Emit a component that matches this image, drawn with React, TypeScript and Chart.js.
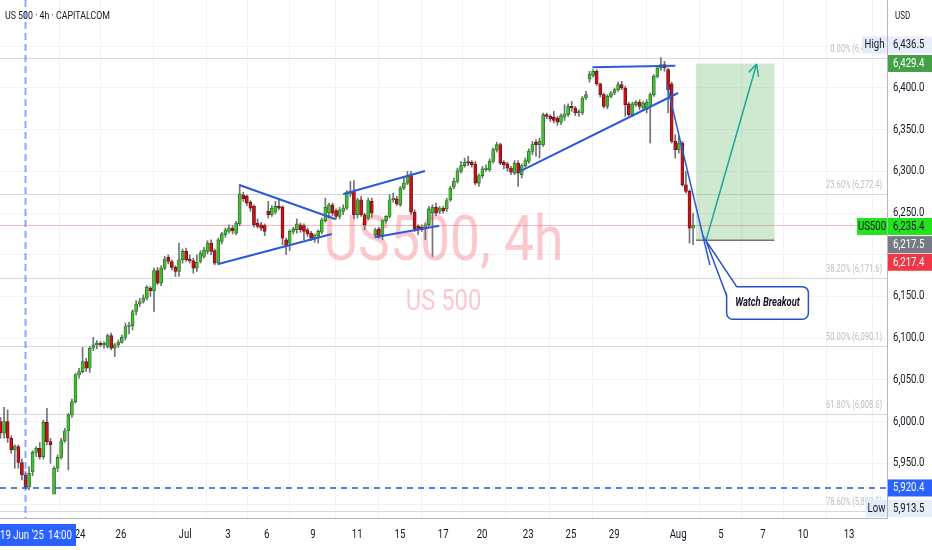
import { useEffect, useRef } from 'react';
import { Chart, BarController, BarElement, LinearScale, CategoryScale } from 'chart.js';

Chart.register(BarController, BarElement, LinearScale, CategoryScale);

const FONT = "Roboto, 'Liberation Sans', sans-serif";
Chart.defaults.font.family = FONT;

// 4h candles, Jun 18 -> Aug 1 (index = bar number)
const opens = [
  6000, 5986, 6000, 5980, 5966, 5970, 5951, 5936, 5922, 5940,
  5963, 5968, 5958, 5999, 5976, 5913, 5944, 5957, 5977, 5989,
  6008, 6024, 6056, 6060, 6072, 6064, 6088, 6092, 6093, 6092,
  6090, 6103, 6088, 6092, 6095, 6101, 6114, 6115, 6132, 6141,
  6144, 6148, 6160, 6157, 6181, 6166, 6184, 6197, 6192, 6185,
  6180, 6194, 6204, 6194, 6193, 6184, 6192, 6198, 6204, 6214,
  6205, 6190, 6216, 6224, 6228, 6232, 6226, 6237, 6272, 6270,
  6263, 6258, 6238, 6236, 6235, 6252, 6248, 6251, 6258, 6257,
  6218, 6214, 6228, 6230, 6236, 6235, 6230, 6226, 6220, 6223,
  6227, 6241, 6250, 6260, 6253, 6246, 6252, 6256, 6273, 6276,
  6248, 6266, 6248, 6244, 6264, 6224, 6231, 6222, 6241, 6246,
  6266, 6267, 6260, 6280, 6286, 6295, 6251, 6234, 6233, 6231,
  6236, 6250, 6257, 6252, 6256, 6255, 6266, 6281, 6288, 6300,
  6307, 6311, 6311, 6309, 6286, 6295, 6302, 6302, 6312, 6326,
  6332, 6311, 6309, 6304, 6298, 6310, 6296, 6307, 6312, 6324,
  6335, 6332, 6332, 6368, 6366, 6365, 6364, 6359, 6365, 6368,
  6378, 6376, 6370, 6370, 6388, 6411, 6415, 6420, 6405, 6392,
  6378, 6390, 6394, 6398, 6404, 6400, 6381, 6368, 6380, 6383,
  6376, 6374, 6378, 6392, 6414, 6424, 6428, 6422, 6405, 6336,
  6326, 6334, 6284, 6276, 6232,
];
const highs = [
  6005, 6017, 6014, 5983, 5972, 5972, 5955, 5940, 5946, 5965,
  5970, 5975, 6002, 6016, 5980, 5946, 5960, 5980, 5992, 6010,
  6027, 6058, 6064, 6089, 6076, 6090, 6101, 6097, 6096, 6096,
  6105, 6106, 6094, 6098, 6104, 6118, 6119, 6134, 6145, 6148,
  6152, 6163, 6162, 6184, 6185, 6187, 6198, 6200, 6194, 6187,
  6214, 6207, 6208, 6200, 6196, 6200, 6205, 6209, 6217, 6218,
  6207, 6220, 6227, 6232, 6236, 6235, 6240, 6284, 6275, 6272,
  6265, 6260, 6243, 6239, 6237, 6264, 6259, 6264, 6267, 6259,
  6220, 6230, 6233, 6243, 6238, 6237, 6232, 6228, 6225, 6230,
  6244, 6268, 6262, 6262, 6255, 6257, 6260, 6277, 6288, 6289,
  6268, 6270, 6250, 6268, 6268, 6232, 6233, 6242, 6247, 6272,
  6274, 6270, 6282, 6292, 6300, 6300, 6254, 6236, 6236, 6238,
  6258, 6260, 6262, 6258, 6258, 6268, 6282, 6292, 6304, 6312,
  6316, 6318, 6313, 6312, 6297, 6306, 6308, 6315, 6328, 6335,
  6334, 6313, 6311, 6306, 6313, 6313, 6309, 6316, 6327, 6336,
  6338, 6340, 6370, 6370, 6368, 6372, 6366, 6369, 6380, 6381,
  6384, 6378, 6374, 6390, 6396, 6420, 6422, 6422, 6406, 6394,
  6392, 6396, 6400, 6407, 6408, 6402, 6383, 6383, 6385, 6386,
  6384, 6386, 6394, 6416, 6426, 6436.5, 6432, 6424, 6407, 6344,
  6342, 6336, 6300, 6278, 6250,
];
const lows = [
  5980, 5980, 5975, 5962, 5944, 5944, 5930, 5920, 5918, 5935,
  5958, 5955, 5955, 5972, 5950, 5913.5, 5940, 5955, 5975, 5942,
  6005, 6022, 6052, 6058, 6060, 6059, 6085, 6087, 6090, 6088,
  6088, 6086, 6078, 6089, 6094, 6098, 6105, 6110, 6128, 6138,
  6142, 6146, 6150, 6132, 6164, 6163, 6182, 6189, 6182, 6174,
  6174, 6190, 6192, 6190, 6178, 6180, 6190, 6196, 6201, 6200,
  6188, 6188, 6213, 6221, 6226, 6225, 6224, 6235, 6264, 6259,
  6252, 6233, 6232, 6229, 6223, 6244, 6246, 6249, 6254, 6212,
  6200, 6205, 6225, 6226, 6227, 6218, 6222, 6217, 6215, 6214,
  6225, 6239, 6244, 6247, 6243, 6243, 6248, 6254, 6270, 6243,
  6244, 6246, 6230, 6242, 6245, 6221, 6220, 6218, 6238, 6244,
  6263, 6259, 6258, 6278, 6284, 6248, 6228, 6224, 6228, 6218,
  6234, 6198, 6247, 6249, 6250, 6252, 6264, 6279, 6286, 6298,
  6305, 6307, 6305, 6284, 6282, 6292, 6300, 6300, 6310, 6323,
  6308, 6303, 6300, 6296, 6296, 6282, 6292, 6305, 6310, 6320,
  6318, 6316, 6330, 6363, 6360, 6358, 6355, 6356, 6361, 6366,
  6372, 6367, 6366, 6368, 6386, 6407, 6413, 6403, 6389, 6376,
  6375, 6388, 6392, 6396, 6398, 6366, 6366, 6366, 6378, 6374,
  6374, 6370, 6334, 6390, 6412, 6421, 6420, 6370, 6334, 6316,
  6322, 6282, 6274, 6214, 6212,
];
const closes = [
  5986, 6000, 5980, 5966, 5971, 5951, 5936, 5922, 5938, 5963,
  5968, 5958, 5999, 5976, 5972, 5944, 5957, 5977, 5989, 6008,
  6024, 6056, 6060, 6072, 6064, 6088, 6092, 6094, 6092, 6093,
  6103, 6088, 6092, 6095, 6101, 6114, 6115, 6132, 6141, 6144,
  6148, 6161, 6157, 6181, 6166, 6184, 6195, 6192, 6185, 6180,
  6194, 6204, 6194, 6193, 6184, 6191, 6202, 6206, 6214, 6204,
  6190, 6218, 6225, 6230, 6232, 6229, 6238, 6273, 6267, 6262,
  6256, 6236, 6234, 6232, 6228, 6248, 6256, 6258, 6256, 6220,
  6211, 6228, 6231, 6237, 6230, 6228, 6225, 6220, 6224, 6228,
  6242, 6257, 6260, 6250, 6246, 6254, 6256, 6274, 6276, 6248,
  6266, 6248, 6236, 6265, 6250, 6230, 6222, 6241, 6246, 6266,
  6268, 6261, 6280, 6286, 6294, 6251, 6231, 6230, 6230, 6236,
  6255, 6257, 6250, 6256, 6253, 6265, 6280, 6288, 6301, 6307,
  6311, 6310, 6308, 6286, 6295, 6303, 6304, 6312, 6326, 6332,
  6310, 6308, 6304, 6299, 6310, 6298, 6307, 6313, 6324, 6332,
  6332, 6336, 6368, 6366, 6363, 6361, 6359, 6367, 6369, 6378,
  6376, 6370, 6371, 6388, 6392, 6417, 6420, 6405, 6392, 6378,
  6390, 6394, 6398, 6404, 6400, 6380, 6368, 6381, 6383, 6378,
  6382, 6383, 6392, 6414, 6424, 6428, 6424, 6398, 6336, 6326,
  6334, 6284, 6276, 6232, 6235.4,
];

// date axis (bar index where each label sits)
const dayTicks = [22.3, 33.75, 51.7, 63.7, 74.6, 87.5, 99.9, 111.9, 124, 134.9, 147.8, 159.8, 171.9, 189.8, 201.8, 213.6, 224.8, 237.7];
const dayLabels = ['24', '26', 'Jul', '3', '6', '9', '11', '15', '17', '20', '23', '25', '29', 'Aug', '5', '7', '10', '13'];
const priceTicks = [5900, 5950, 6000, 6050, 6100, 6150, 6200, 6250, 6300, 6350, 6400, 6450];
const hiddenPriceLabels = [5900, 6200, 6450];

// fibonacci retracement
const fibLevels = [0, 0.236, 0.382, 0.5, 0.618, 0.786];
const fibPrices = [6435.4, 6272.4, 6171.6, 6090.1, 6008.6, 5892.5];

// drawings: [x1, price1, x2, price2] in bar index / price
const trendLines = [
  [66.9, 6283.7, 93.9, 6242.6],
  [61.0, 6189.0, 92.8, 6224.9],
  [96.0, 6272.9, 118.9, 6300.5],
  [104.9, 6221.0, 122.9, 6234.9],
  [145.2, 6299.3, 189.8, 6394.0],
  [165.8, 6424.8, 189.0, 6426.7],
];
const breakLine = [186.7, 6403.6, 198.7, 6187.8];
const targetArrow = [197.6, 6216.9, 211.8, 6428.8];
const positionBox = [194.8, 216.8, 6429.4, 6217.4];
const calloutBox = [203.4, 226.3, 6161.8, 6122.7];
const crosshairBar = 7;
const lowLevel = 5920.4;
const lastPrice = 6235.4;

const GREEN = '#47bb35', GREEN_EDGE = '#2a7420';
const RED = '#c0151b', RED_EDGE = '#760c0f';
const BLUE = '#2a5bd7';
const SQ = 0.8; // text is drawn a bit narrow, like the source

const fmt = (v: number) => v.toLocaleString('en-US', { minimumFractionDigits: 1, maximumFractionDigits: 1 });

function text(ctx: CanvasRenderingContext2D, s: string, x: number, y: number, o: any = {}) {
  ctx.save();
  ctx.translate(x, y);
  ctx.scale(o.sx ?? SQ, 1);
  ctx.font = `${o.style ?? ''} ${o.weight ?? ''} ${o.size ?? 12}px ${FONT}`.trim();
  ctx.textAlign = o.align ?? 'left';
  ctx.textBaseline = o.base ?? 'middle';
  ctx.fillStyle = o.color ?? '#131722';
  ctx.fillText(s, 0, 0);
  ctx.restore();
}

function tag(ctx: CanvasRenderingContext2D, x: number, yc: number, w: number, s: string, fill: string, color: string, align = 'left') {
  ctx.fillStyle = fill;
  ctx.fillRect(x, yc - 8.5, w, 17);
  text(ctx, s, align === 'center' ? x + w / 2 : x + 5, yc + 0.5, { size: 12, color, align });
}

const overlay = {
  id: 'overlay',
  beforeDatasetsDraw(chart: any) {
    const { ctx, chartArea: a, scales: { x, y } } = chart;
    ctx.save();
    ctx.beginPath();
    ctx.rect(a.left, a.top, a.right - a.left, a.bottom - a.top);
    ctx.clip();

    const cx = (a.left + a.right) / 2;
    text(ctx, 'US500, 4h', cx, a.top + 260, { size: 63, color: 'rgba(242,54,69,0.27)', align: 'center', base: 'alphabetic', sx: 0.85 });
    text(ctx, 'US 500', cx, a.top + 310, { size: 29, color: 'rgba(242,54,69,0.27)', align: 'center', base: 'alphabetic', sx: 0.82 });

    fibPrices.forEach((p, k) => {
      const py = Math.round(y.getPixelForValue(p)) + 0.5;
      ctx.strokeStyle = '#d6d8de';
      ctx.lineWidth = 1;
      ctx.beginPath();
      ctx.moveTo(a.left, py);
      ctx.lineTo(a.right, py);
      ctx.stroke();
      text(ctx, `${(fibLevels[k] * 100).toFixed(2)}% (${fmt(p)})`, a.right - 5, py - 9, { size: 10, color: '#bcbfc7', align: 'right', sx: 0.75 });
    });

    const lp = Math.round(y.getPixelForValue(lastPrice)) + 0.5;
    ctx.strokeStyle = 'rgba(242,54,69,0.35)';
    ctx.beginPath();
    ctx.moveTo(a.left, lp);
    ctx.lineTo(a.right, lp);
    ctx.stroke();

    const [bx1, bx2, bTop, bBot] = positionBox;
    const L = x.getPixelForValue(bx1), R = x.getPixelForValue(bx2);
    const T = y.getPixelForValue(bTop), B = y.getPixelForValue(bBot);
    ctx.fillStyle = 'rgba(76,175,80,0.27)';
    ctx.fillRect(L, T, R - L, B - T);
    ctx.strokeStyle = '#7d7468';
    ctx.lineWidth = 1.5;
    ctx.beginPath();
    ctx.moveTo(L, B);
    ctx.lineTo(R, B);
    ctx.stroke();
    ctx.restore();
  },
  afterDatasetsDraw(chart: any) {
    const { ctx, chartArea: a, scales: { x, y } } = chart;
    const P = (v: number, p: number) => [x.getPixelForValue(v), y.getPixelForValue(p)];
    ctx.save();
    ctx.beginPath();
    ctx.rect(a.left, a.top, a.right - a.left, a.bottom - a.top);
    ctx.clip();

    // crosshair + low dashed level
    const cxp = Math.round(x.getPixelForValue(crosshairBar)) + 0.5;
    ctx.setLineDash([7, 4]);
    ctx.strokeStyle = 'rgba(41,98,255,0.55)';
    ctx.lineWidth = 2;
    ctx.beginPath();
    ctx.moveTo(cxp, a.top);
    ctx.lineTo(cxp, a.bottom);
    ctx.stroke();
    const ly = y.getPixelForValue(lowLevel);
    ctx.setLineDash([6, 5]);
    ctx.strokeStyle = '#2450d6';
    ctx.lineWidth = 1.5;
    ctx.beginPath();
    ctx.moveTo(a.left, ly);
    ctx.lineTo(a.right, ly);
    ctx.stroke();
    ctx.setLineDash([]);

    ctx.strokeStyle = BLUE;
    ctx.lineWidth = 2;
    trendLines.forEach(([v1, p1, v2, p2]) => {
      const [x1, y1] = P(v1, p1), [x2, y2] = P(v2, p2);
      ctx.beginPath();
      ctx.moveTo(x1, y1);
      ctx.lineTo(x2, y2);
      ctx.stroke();
    });
    ctx.lineWidth = 1.5;
    {
      const [x1, y1] = P(breakLine[0], breakLine[1]), [x2, y2] = P(breakLine[2], breakLine[3]);
      ctx.beginPath();
      ctx.moveTo(x1, y1);
      ctx.lineTo(x2, y2);
      ctx.stroke();
    }

    // target arrow
    const [ax1, ay1] = P(targetArrow[0], targetArrow[1]);
    const [ax2, ay2] = P(targetArrow[2], targetArrow[3]);
    ctx.strokeStyle = '#22a59b';
    ctx.lineWidth = 1.5;
    ctx.beginPath();
    ctx.moveTo(ax1, ay1);
    ctx.lineTo(ax2, ay2);
    const ang = Math.atan2(ay2 - ay1, (ax2 - ax1) / SQ);
    for (const d of [150, -150]) {
      const t = ang + (d * Math.PI) / 180;
      ctx.moveTo(ax2, ay2);
      ctx.lineTo(ax2 + Math.cos(t) * 13 * SQ, ay2 + Math.sin(t) * 13);
    }
    ctx.stroke();

    // callout
    const [cl, ct] = P(calloutBox[0], calloutBox[2]);
    const [cr, cb] = P(calloutBox[1], calloutBox[3]);
    ctx.fillStyle = '#ffffff';
    ctx.strokeStyle = '#2551c4';
    ctx.lineWidth = 1.5;
    ctx.beginPath();
    ctx.roundRect(cl, ct, cr - cl, cb - ct, 6);
    ctx.fill();
    ctx.stroke();
    const tail = [[ax1, ay1], [cl, ct + 9], [cl + 10, ct]];
    ctx.beginPath();
    ctx.moveTo(tail[0][0], tail[0][1]);
    ctx.lineTo(tail[1][0] + 1, tail[1][1]);
    ctx.lineTo(tail[2][0], tail[2][1] + 1);
    ctx.closePath();
    ctx.fill();
    ctx.beginPath();
    ctx.moveTo(tail[1][0], tail[1][1]);
    ctx.lineTo(tail[0][0], tail[0][1]);
    ctx.lineTo(tail[2][0], tail[2][1]);
    ctx.stroke();
    text(ctx, 'Watch Breakout', (cl + cr) / 2, (ct + cb) / 2 + 0.5, { size: 12, style: 'italic', weight: 'bold', align: 'center', color: '#131722', sx: 0.78 });
    ctx.restore();
  },
  afterDraw(chart: any) {
    const { ctx, chartArea: a, scales: { x, y }, width } = chart;
    const ax = a.right + 1, aw = width - a.right - 1;

    priceTicks.forEach(v => {
      if (hiddenPriceLabels.includes(v)) return;
      text(ctx, fmt(v), a.right + 6, y.getPixelForValue(v), { size: 12 });
    });
    dayTicks.forEach((v, k) => {
      text(ctx, dayLabels[k], x.getPixelForValue(v), a.bottom + 17, { size: 12, align: 'center' });
    });

    const py = (p: number) => y.getPixelForValue(p);
    // High / Low markers
    tag(ctx, a.right - 25, py(6436.5) - 12.6, 25, 'High', '#e3ebf9', '#131722', 'center');
    tag(ctx, ax, py(6436.5) - 12.6, aw, fmt(6436.5), '#e8eef9', '#131722');
    tag(ctx, ax, py(6429.4), aw, fmt(6429.4), '#43a047', '#ffffff');
    tag(ctx, a.right - 30, py(lastPrice) + 1.2, 30, 'US500', '#22e31c', '#131722', 'center');
    tag(ctx, ax, py(lastPrice) + 1.2, aw, fmt(lastPrice), '#22e31c', '#131722');
    tag(ctx, ax, py(6217.5) + 4.4, aw, fmt(6217.5), '#787b86', '#ffffff');
    tag(ctx, ax, py(6217.4) + 22, aw, fmt(6217.4), '#f23645', '#ffffff');
    tag(ctx, ax, py(lowLevel), aw, fmt(lowLevel), '#2962ff', '#ffffff');
    tag(ctx, a.right - 21, py(5913.5) + 14.7, 21, 'Low', '#e3ebf9', '#131722', 'center');
    tag(ctx, ax, py(5913.5) + 14.7, aw, fmt(5913.5), '#e8eef9', '#131722');

    text(ctx, 'US 500 · 4h · CAPITALCOM', a.left + 5, 16, { size: 11 });
    text(ctx, 'USD', a.right + 8, 16, { size: 10 });

    // crosshair date
    ctx.fillStyle = '#2962ff';
    ctx.fillRect(0, a.bottom + 6, 76, 22);
    text(ctx, "19 Jun '25", 0, a.bottom + 17.5, { size: 12, color: '#ffffff' });
    text(ctx, '14:00', 48, a.bottom + 17.5, { size: 12, color: '#ffffff' });
  },
};

export default function App() {
  const ref = useRef<HTMLCanvasElement>(null);

  useEffect(() => {
    if (!ref.current) return;
    const idx = opens.map((_, i) => i);
    const up = (i: number) => closes[i] >= opens[i];
    const chart = new Chart(ref.current, {
      type: 'bar',
      data: {
        datasets: [
          {
            label: 'body',
            data: idx.map(i => ({ x: i, y: [opens[i], closes[i]] })) as any,
            backgroundColor: idx.map(i => (up(i) ? GREEN : RED)),
            borderColor: idx.map(i => (up(i) ? GREEN_EDGE : RED_EDGE)),
            borderWidth: 0.8,
            borderSkipped: false,
            barThickness: 3.1,
            minBarLength: 1.5,
            grouped: false,
            order: 0,
          },
          {
            label: 'wick',
            data: idx.map(i => ({ x: i, y: [lows[i], highs[i]] })) as any,
            backgroundColor: '#6f727b',
            borderWidth: 0,
            barThickness: 1,
            grouped: false,
            order: 1,
          },
        ],
      },
      options: {
        responsive: true,
        maintainAspectRatio: false,
        animation: false,
        events: [],
        layout: { padding: 0 },
        plugins: { legend: { display: false }, tooltip: { enabled: false } },
        scales: {
          x: {
            type: 'linear',
            min: -0.14,
            max: 248.32,
            offset: false,
            afterBuildTicks: (s: any) => { s.ticks = dayTicks.map(v => ({ value: v })); },
            afterFit: (s: any) => { s.height = 32; },
            ticks: { display: false },
            grid: { color: '#f2f3f6', drawTicks: false },
            border: { color: '#b2b5be' },
          },
          y: {
            type: 'linear',
            position: 'right',
            min: 5884.4,
            max: 6505.5,
            afterBuildTicks: (s: any) => { s.ticks = priceTicks.map(v => ({ value: v })); },
            afterFit: (s: any) => { s.width = 45; },
            ticks: { display: false },
            grid: { color: '#f0f3fa', drawTicks: false },
            border: { color: '#b2b5be' },
          },
        },
      },
      plugins: [overlay],
    });
    return () => { chart.destroy(); };
  }, []);

  return (
    <div style={{ position: 'fixed', left: 0, top: 0, width: 932, height: 550, background: '#ffffff' }}>
      <canvas ref={ref} />
    </div>
  );
}
